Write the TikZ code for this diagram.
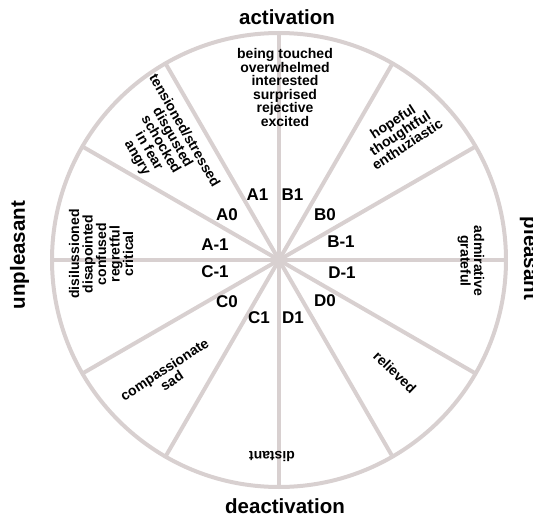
\documentclass[tikz,border=0pt]{standalone}
\usepackage{fontspec}
\setmainfont{Liberation Sans}
\definecolor{wheelgrey}{RGB}{216,208,208}
\tikzstyle{spoke}=[line width=4pt, draw=wheelgrey]
\tikzstyle{pole}=[inner sep=0pt, font=\fontsize{20.5}{22}\selectfont\bfseries]
\tikzstyle{zone}=[inner sep=0pt, font=\fontsize{17}{18}\selectfont\bfseries]
\tikzstyle{mood}=[inner sep=0pt, align=center, font=\fontsize{14}{13.5}\selectfont\bfseries]
\newcommand{\mood}{\node[mood]}

\begin{document}
\begin{tikzpicture}[x=1pt,y=1pt]
\useasboundingbox (-279,-257) rectangle (254,260);
\coordinate (o) at (0,0);
\draw[spoke] (o) circle (227);
\foreach \a in {0,30,...,330}{
	\coordinate (r\a) at (\a:227);
	\draw[spoke] (o) -- (r\a);
	}
\foreach \n/\x/\y/\t in {a1/-21.5/65/A1, b1/13.5/65/B1, a0/-52/45/A0, b0/46/45/B0,
	am1/-64/15/A-1, bm1/62/18/B-1, cm1/-64/-12/C-1, dm1/63/-13/D-1,
	c0/-52/-42/C0, d0/46/-41/D0, c1/-20/-58/C1, d1/14/-58/D1}{
	\node[zone] (\n) at (\x,\y) {\t};
	}
\mood (top) at (6,172.5) {being touched\\overwhelmed\\interested\\surprised\\rejective\\excited};
\mood[rotate=-60] (tl) at (-118.5,115.5) {tensioned/stressed\\disgusted\\schocked\\in fear\\angry};
\mood[rotate=33] (tr) at (121,127) {hopeful\\thoughtful\\enthuziastic};
\mood[rotate=-90] (rt) at (192,-1) {admirative\\grateful};
\mood[rotate=90] (lt) at (-178,6) {disilussioned\\disapointed\\confused\\regretful\\critical};
\mood[rotate=33] (bl) at (-111,-115) {compassionate\\sad};
\mood[rotate=-44] (br) at (116,-112) {relieved};
\mood[rotate=180] (bt) at (-7,-197) {distant};
\node[pole] (act) at (8,243) {activation};
\node[pole] (deact) at (6,-246) {deactivation};
\node[pole, rotate=90] (unpl) at (-259.5,5) {unpleasant};
\node[pole, rotate=-90] (pl) at (250.5,1.5) {pleasant};
\end{tikzpicture}
\end{document}
